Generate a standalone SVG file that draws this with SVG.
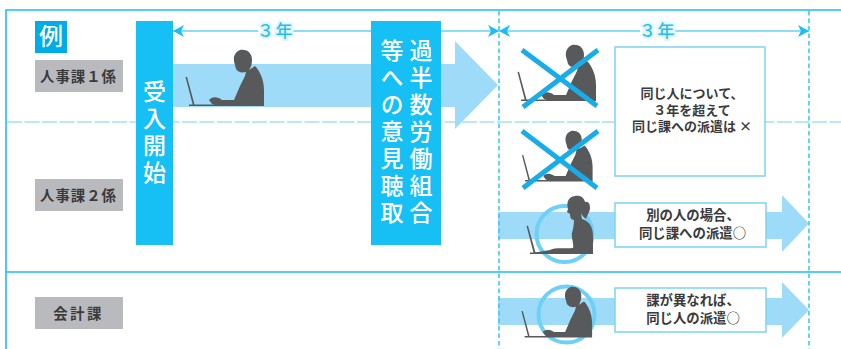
<svg xmlns="http://www.w3.org/2000/svg" xmlns:xlink="http://www.w3.org/1999/xlink" width="841" height="349" viewBox="0 0 841 349">
<style>
text{font-family:"Noto Sans CJK JP","Liberation Sans",sans-serif}
.frame{stroke:#1bbdf2;stroke-width:1.6;fill:none}
.hdash{stroke:#a6dff7;stroke-width:1.4;stroke-dasharray:15 2.5;fill:none}
.vdash{stroke:#3fc8f3;stroke-width:1.6;stroke-dasharray:4.5 3;fill:none}
.dim{stroke:#1bbdf2;stroke-width:1.2;fill:none}
.shaft{fill:#9edbf8}
.gray{fill:#b9babd}
.blue{fill:#16c0f4}
.lab{font-size:14.4px;font-weight:700;fill:#3a3a3c;text-anchor:middle;letter-spacing:1px}
.note{font-size:13.400px;font-weight:700;fill:#3a3a3c;text-anchor:middle}
.box{fill:#fff;stroke:#7dd3f5;stroke-width:1.5}
.vt{font-size:23px;font-weight:500;fill:#fff;writing-mode:vertical-rl;letter-spacing:4px}
.yr{font-size:17px;font-weight:500;fill:#1fc0f2;stroke:#e2f6fd;stroke-width:4;paint-order:stroke;text-anchor:middle;letter-spacing:1.500px}
.sil{fill:#58595b}
.x{stroke:#18ade9;stroke-width:5;fill:none}
.ring{stroke:#6dd0f7;stroke-width:4;fill:none}
</style>
<defs>
<marker id="ah" viewBox="0 0 11 12" refX="11" refY="6" markerWidth="11" markerHeight="12" markerUnits="userSpaceOnUse" orient="auto-start-reverse"><path d="M0 0L11 6L0 12L3 6Z" fill="#1bbdf2"/></marker>
<g id="man">
<path d="M240 50C246 49 252 52 252 60C252 64 251 67 249 70L255 66C260 71 264 80 264 90L264 106L218 106L212 104L209 100C213 96 218 97 222 100L234 100L240 86L245 76L246 72C241 73 238 72 236 69L235 65C233 60 233 53 240 50Z"/>
<path d="M185.500 77L187 76.800L194.500 104.500L218 104.500L218 106L189 106L189 104.500L192.700 104.500Z"/>
</g>
</defs>
<g id="grid">
<path class="hdash" d="M7 122H841"/>
<path class="frame" d="M841 10H6V349M6 272H841"/>
</g>
<g id="connectors">
<path class="shaft" d="M173 64H455V41L498 85L455 129V107H173Z"/>
<path class="shaft" d="M498 212H782V195L809 223.500L782 252V239H498Z"/>
<path class="shaft" d="M498 298H782V282L809 310L782 338V325H498Z"/>
<path class="vdash" d="M499 11V349M809 11V349"/>
<path class="dim" d="M173 31H258" marker-start="url(#ah)"/>
<path class="dim" d="M293 31H371"/>
<path class="dim" d="M441 31H499" marker-end="url(#ah)"/>
<path class="dim" d="M499 31H640" marker-start="url(#ah)"/>
<path class="dim" d="M675 31H809" marker-end="url(#ah)"/>
<text class="yr" x="275.500" y="37">３年</text>
<text class="yr" x="657.500" y="37">３年</text>
</g>
<g id="example"><rect x="35" y="21" width="32" height="32" fill="#00ace8"/><text x="51" y="45" font-size="24" font-weight="500" fill="#fff" text-anchor="middle">例</text></g>
<g id="section1"><rect class="gray" x="35" y="60" width="88" height="32"/><text class="lab" x="78.500" y="82">人事課１係</text></g>
<g id="section2"><rect class="gray" x="35" y="179" width="88" height="32"/><text class="lab" x="78.500" y="201">人事課２係</text></g>
<g id="accounting"><rect class="gray" x="35" y="297" width="88" height="32"/><text class="lab" x="78.500" y="319" style="letter-spacing:2.500px">会計課</text></g>
<g id="start"><rect class="blue" x="136" y="21" width="37" height="224"/><text class="vt" x="154.500" y="80">受入開始</text></g>
<g id="hearing"><rect class="blue" x="371" y="21" width="70" height="224"/><text class="vt" x="421" y="39">過半数労働組合</text><text class="vt" x="392" y="39">等への意見聴取</text></g>
<g id="person1"><use href="#man" class="sil"/></g>
<g id="person2"><use href="#man" class="sil" transform="translate(332 -5)"/><path class="x" d="M522 50L597 106M523 107L598 50"/></g>
<g id="person3"><use href="#man" class="sil" transform="translate(355 86) scale(.9)"/><path class="x" d="M522 131L597 188M523 188L598 131"/></g>
<g id="person4"><circle class="ring" cx="564.500" cy="234" r="28"/>
<path class="sil" d="M575 196C581 195 584 198 585 202C589 201 590 205 590 208C590 212 587 215 586 219C583 217 582 215 581 213L582 219C590 221 593 228 593 236V254H536L535 252.500L550 250C556 247 565 249 573 248C574 243 571 238 572 233C573 229 574 225 574 220C571 220 570 217 570 214L567 212L568 209C566 201 569 197 575 196Z"/>
<path class="sil" d="M526.500 226L528 225.700L535.500 252.500H570V254H530V252.500H533.500Z"/></g>
<g id="person5"><circle class="ring" cx="566.500" cy="314.500" r="28"/><use href="#man" class="sil" transform="translate(354.500 242) scale(.9)"/></g>
<g id="note1"><rect class="box" x="615" y="47" width="150" height="129"/><text class="note" style="font-size:13px"><tspan x="692" y="98">同じ人について、</tspan><tspan x="692" y="114.500">３年を超えて</tspan><tspan x="692" y="131">同じ課への派遣は ×</tspan></text></g>
<g id="note2"><rect class="box" x="615" y="203" width="151" height="44"/><text class="note"><tspan x="693" y="220">別の人の場合、</tspan><tspan x="692.500" y="238">同じ課への派遣○</tspan></text></g>
<g id="note3"><rect class="box" x="615" y="288" width="151" height="44"/><text class="note"><tspan x="693" y="305">課が異なれば、</tspan><tspan x="693" y="323">同じ人の派遣○</tspan></text></g>
</svg>
